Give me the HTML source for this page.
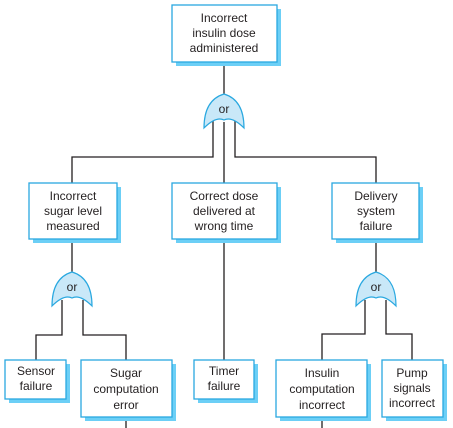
<!DOCTYPE html>
<html><head><meta charset="utf-8"><style>
html,body{margin:0;padding:0;background:#fff;}
svg{display:block;}
text{font-family:"Liberation Sans",sans-serif;font-size:12px;fill:#231f20;text-anchor:middle;}
</style></head><body>
<svg width="453" height="428" viewBox="0 0 453 428" xmlns="http://www.w3.org/2000/svg">
<defs>
<g id="gate">
<path d="M-20,34 Q-20,6 0,0 Q20,6 20,34 Q8,22 0,26 Q-8,22 -20,34 Z" fill="#c9e8f8" stroke="#29a8e0" stroke-width="1.2"/>
<text x="0" y="19">or</text>
</g>
</defs>
<g stroke="#231f20" stroke-width="1.3" fill="none">
<line x1="224" y1="62" x2="224" y2="94"/>
<polyline points="213,120 213,157 72,157 72,183"/>
<polyline points="235,120 235,157 376,157 376,183"/>
<line x1="224" y1="122" x2="224" y2="183"/>
<line x1="72" y1="239" x2="72" y2="272"/>
<line x1="224" y1="239" x2="224" y2="361"/>
<line x1="376" y1="239" x2="376" y2="272"/>
<polyline points="62,300 62,335 36,335 36,361"/>
<polyline points="83,300 83,335 126,335 126,361"/>
<polyline points="365,300 365,334 322,334 322,361"/>
<polyline points="386,300 386,334 412,334 412,361"/>
<line x1="126" y1="417" x2="126" y2="428"/>
<line x1="322" y1="417" x2="322" y2="428"/>
</g>
<g fill="#6ccff6">
<rect x="176" y="9" width="105" height="57"/>
<rect x="33" y="187" width="88" height="56"/>
<rect x="176" y="187" width="105" height="56"/>
<rect x="336" y="187" width="87" height="56"/>
<rect x="9" y="364" width="61" height="39"/>
<rect x="85" y="364" width="91" height="57"/>
<rect x="198" y="364" width="60" height="39"/>
<rect x="280" y="364" width="91" height="57"/>
<rect x="386" y="364" width="61" height="57"/>
</g>
<g fill="#fff" stroke="#29a8e0" stroke-width="1.3">
<rect x="172" y="5" width="105" height="57"/>
<rect x="29" y="183" width="88" height="56"/>
<rect x="172" y="183" width="105" height="56"/>
<rect x="332" y="183" width="87" height="56"/>
<rect x="5" y="360" width="61" height="39"/>
<rect x="81" y="360" width="91" height="57"/>
<rect x="194" y="360" width="60" height="39"/>
<rect x="276" y="360" width="91" height="57"/>
<rect x="382" y="360" width="61" height="57"/>
</g>
<use href="#gate" x="224" y="94"/>
<use href="#gate" x="72" y="272"/>
<use href="#gate" x="376" y="272"/>
<text x="224" y="22">Incorrect</text><text x="224" y="37">insulin dose</text><text x="224" y="52">administered</text>
<text x="73" y="200">Incorrect</text><text x="73" y="215">sugar level</text><text x="73" y="230">measured</text>
<text x="224" y="200">Correct dose</text><text x="224" y="215">delivered at</text><text x="224" y="230">wrong time</text>
<text x="376" y="200">Delivery</text><text x="376" y="215">system</text><text x="376" y="230">failure</text>
<text x="36" y="375">Sensor</text><text x="36" y="390">failure</text>
<text x="126" y="377">Sugar</text><text x="126" y="393">computation</text><text x="126" y="409">error</text>
<text x="224" y="375">Timer</text><text x="224" y="390">failure</text>
<text x="322" y="377">Insulin</text><text x="322" y="393">computation</text><text x="322" y="409">incorrect</text>
<text x="412" y="377">Pump</text><text x="412" y="392">signals</text><text x="412" y="407">incorrect</text>
</svg>
</body></html>
